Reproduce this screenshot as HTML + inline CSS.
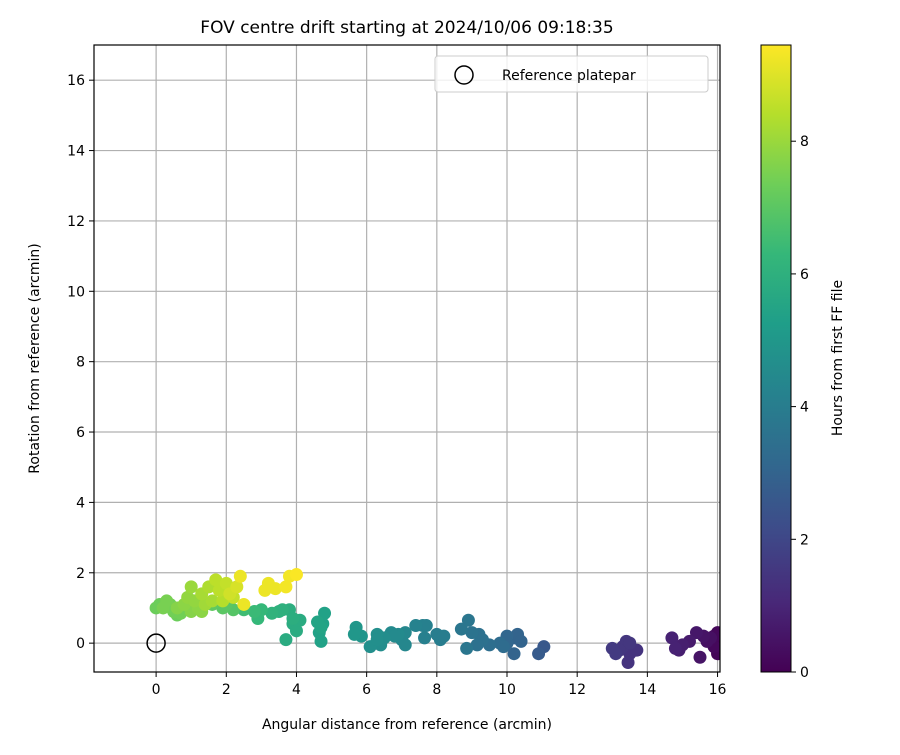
<!DOCTYPE html>
<html><head><meta charset="utf-8"><style>
body{margin:0;background:#fff;font-family:"Liberation Sans","DejaVu Sans",sans-serif}
svg text{font-family:"DejaVu Sans","Liberation Sans",sans-serif;fill:#000}
</style></head><body>
<svg id="c" width="900" height="750"></svg>
<script>
const xs=[2.4,2.5,3.1,3.2,3.4,3.7,3.8,4.0,2.3,2.1,2.0,1.8,1.7,1.9,2.2,1.5,1.3,1.6,1.4,1.0,0.9,1.1,1.2,0.8,0.6,1.3,1.0,0.2,0.3,0.5,0.4,0.7,0.1,0.0,0.6,1.6,1.9,2.2,2.0,2.5,2.8,2.9,3.0,3.3,3.5,3.6,3.8,3.9,3.9,4.0,3.7,4.1,4.6,4.7,4.8,4.65,4.7,4.75,5.7,5.65,5.85,6.1,6.3,6.3,6.5,6.4,6.7,6.9,7.0,7.1,7.1,6.8,7.6,7.7,7.65,7.4,8.0,8.1,8.2,8.7,8.9,8.85,9.0,9.2,9.3,9.15,9.5,9.8,9.9,10.0,10.2,10.3,10.4,10.2,10.0,10.9,11.05,13.0,13.1,13.3,13.4,13.5,13.5,13.45,13.7,13.2,14.7,14.8,14.9,15.0,15.2,15.4,15.6,15.5,15.7,15.8,15.9,16.0,16.0,15.9,16.0];
const ys=[1.9,1.1,1.5,1.7,1.55,1.6,1.9,1.95,1.6,1.4,1.7,1.5,1.8,1.2,1.3,1.6,1.4,1.2,1.1,1.6,1.3,1.2,1.0,1.1,1.0,0.9,0.9,1.0,1.2,0.9,1.1,0.85,1.1,1.0,0.8,1.1,1.0,0.95,1.1,0.95,0.9,0.7,0.95,0.85,0.9,0.95,0.95,0.7,0.55,0.35,0.1,0.65,0.6,0.45,0.85,0.3,0.05,0.55,0.45,0.25,0.2,-0.1,0.25,0.1,0.15,-0.05,0.3,0.25,0.1,0.3,-0.05,0.2,0.5,0.5,0.15,0.5,0.25,0.1,0.2,0.4,0.65,-0.15,0.3,0.25,0.1,-0.05,-0.05,0.0,-0.1,0.2,0.15,0.25,0.05,-0.3,0.0,-0.3,-0.1,-0.15,-0.3,-0.1,0.05,0.0,-0.3,-0.55,-0.2,-0.2,0.15,-0.15,-0.2,-0.05,0.05,0.3,0.2,-0.4,0.05,0.15,0.2,0.3,-0.3,-0.1,0.05];
const hrs=[9.2,9.2,9.2,9.2,9.2,9.3,9.3,9.4,8.9,8.8,8.6,8.5,8.5,8.4,8.6,8.3,8.2,8.2,8.1,8.0,7.9,7.9,7.8,7.8,7.7,7.8,7.7,7.5,7.5,7.4,7.4,7.4,7.3,7.3,7.3,7.1,7.0,6.9,7.0,6.5,6.4,6.3,6.3,6.1,6.0,6.0,5.9,5.9,5.8,5.8,5.8,5.8,5.5,5.5,5.4,5.4,5.4,5.4,5.0,5.0,4.9,4.7,4.7,4.7,4.6,4.6,4.5,4.5,4.4,4.4,4.4,4.5,4.1,4.1,4.1,4.2,4.0,4.0,4.0,3.7,3.7,3.7,3.6,3.5,3.5,3.5,3.4,3.3,3.3,3.1,3.0,3.0,3.0,3.0,3.1,2.7,2.6,1.6,1.6,1.5,1.5,1.5,1.4,1.4,1.4,1.5,0.9,0.9,0.8,0.8,0.7,0.6,0.5,0.5,0.4,0.4,0.2,0.15,0.1,0.2,0.1];
const xTicks=[0,2,4,6,8,10,12,14,16];
const yTicks=[0,2,4,6,8,10,12,14,16];
const cTicks=[0,2,4,6,8];
const NS='http://www.w3.org/2000/svg',svg=document.getElementById('c');
const L=94,R=720,T=45,B=672,xmin=-1.77,xmax=16.07,ymin=-0.82,ymax=17.0,cmax=9.45;
const X=v=>L+(v-xmin)/(xmax-xmin)*(R-L), Y=v=>B-(v-ymin)/(ymax-ymin)*(B-T), CY=v=>672-v/cmax*627;
const vir=[[68,1,84],[72,40,120],[62,74,137],[49,104,142],[38,130,142],[31,158,137],[53,183,121],[110,206,88],[181,222,43],[253,231,37]];
function col(t){t=Math.max(0,Math.min(1,t))*9;const i=Math.min(8,Math.floor(t)),f=t-i,a=vir[i],b=vir[i+1];return `rgb(${a.map((v,k)=>Math.round(v+(b[k]-v)*f)).join(',')})`;}
function el(tag,at,p){const e=document.createElementNS(NS,tag);for(const k in at)e.setAttribute(k,at[k]);(p||svg).appendChild(e);return e;}
function txt(s,x,y,at){const e=el('text',Object.assign({x,y},at));e.textContent=s;return e;}
const g=el('g',{});
xTicks.forEach(v=>{el('line',{x1:X(v),x2:X(v),y1:T,y2:B,stroke:'#b0b0b0','stroke-width':1.2},g);el('line',{x1:X(v),x2:X(v),y1:B,y2:B+5,stroke:'#000'});const t=txt(v,X(v),B+22,{'text-anchor':'middle','font-size':14});});
yTicks.forEach(v=>{el('line',{y1:Y(v),y2:Y(v),x1:L,x2:R,stroke:'#b0b0b0','stroke-width':1.2},g);el('line',{y1:Y(v),y2:Y(v),x1:L-5,x2:L,stroke:'#000'});const t=txt(v,L-9,Y(v)+5,{'text-anchor':'end','font-size':14});});
const pts=el('g',{});
const clip=el('clipPath',{id:'cp'});el('rect',{x:L,y:T,width:R-L,height:B-T},clip);pts.setAttribute('clip-path','url(#cp)');
const ord=hrs.map((h,i)=>i).sort((a,b)=>hrs[a]-hrs[b]);
ord.forEach(i=>{const c=el('circle',{cx:X(xs[i]),cy:Y(ys[i]),r:6.5,fill:col(hrs[i]/cmax)},pts);});
const ref=el('circle',{cx:X(0),cy:Y(0),r:9,fill:'none',stroke:'#000','stroke-width':1.5});
el('rect',{x:L,y:T,width:R-L,height:B-T,fill:'none',stroke:'#000','stroke-width':1.2});
const lg=el('g',{});
el('rect',{x:435,y:56,width:273,height:36,rx:3,fill:'#fff','fill-opacity':0.8,stroke:'#ccc'},lg);
el('circle',{cx:464,cy:75,r:9,fill:'none',stroke:'#000','stroke-width':1.5},lg);
txt('Reference platepar',502,80,{'font-size':14});
txt('FOV centre drift starting at 2024/10/06 09:18:35',407,33,{'text-anchor':'middle','font-size':17});
txt('Angular distance from reference (arcmin)',407,729,{'text-anchor':'middle','font-size':14});
const yt=txt('Rotation from reference (arcmin)',0,0,{'text-anchor':'middle','font-size':14,transform:`translate(39,${(T+B)/2}) rotate(-90)`});
const df=el('defs',{});const lgd=el('linearGradient',{id:'vg',x1:0,y1:1,x2:0,y2:0},df);
for(let k=0;k<=9;k++)el('stop',{offset:k/9,'stop-color':`rgb(${vir[k].join(',')})`},lgd);
const cb=el('rect',{x:761,y:45,width:30,height:627,fill:'url(#vg)',stroke:'#000','stroke-width':1});
cTicks.forEach(v=>{el('line',{x1:791,x2:796,y1:CY(v),y2:CY(v),stroke:'#000'});const t=txt(v,800,CY(v)+5,{'font-size':14});});
txt('Hours from first FF file',0,0,{'text-anchor':'middle','font-size':14,transform:'translate(842,358) rotate(-90)'});
</script>
</body></html>
